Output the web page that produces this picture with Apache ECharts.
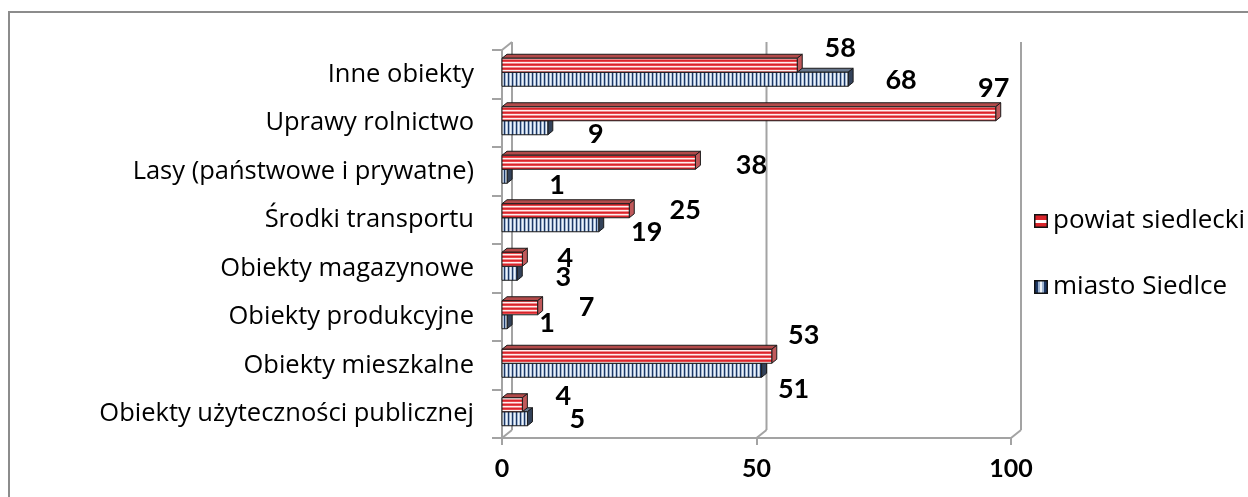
<!DOCTYPE html>
<html>
<head>
<meta charset="utf-8">
<script src="https://cdn.jsdelivr.net/npm/echarts@6/dist/echarts.min.js"></script>
<style>
html,body{margin:0;padding:0;background:#fff;}
#chart{width:1248px;height:497px;}
</style>
</head>
<body>
<div id="chart"></div>
<script>
// ---- data ----
const categories = [
  'Obiekty użyteczności publicznej',
  'Obiekty mieszkalne',
  'Obiekty produkcyjne',
  'Obiekty magazynowe',
  'Środki transportu',
  'Lasy (państwowe i prywatne)',
  'Uprawy rolnictwo',
  'Inne obiekty'
];
const seriesNames = ['powiat siedlecki', 'miasto Siedlce'];
const powiatValues = [4, 53, 7, 4, 25, 38, 97, 58];
const miastoValues = [5, 51, 1, 3, 19, 1, 9, 68];
const xTicks = [0, 50, 100];

// ---- label placement styles (pixel offsets from bar end, like the Excel original) ----
const powiatLabelOffsets = [[41,-8],[32,-21],[49,0],[43,-1],[56,0],[56,3],[-2,-25],[43,-17]];
const miastoLabelOffsets = [[50,1],[32,19],[40,2],[46,4],[48,8],[50,9],[48,7],[53,1]];

const FONT = '"Open Sans", Lato, "Noto Sans", sans-serif';
const BOLD_FONT = 'Lato, "Open Sans", sans-serif';
const DX = 5, DY = 4, BAR_H = 14;

function stripeCanvas(kind) {
  const c = document.createElement('canvas');
  const g = c.getContext('2d');
  if (kind === 'red') {
    c.width = 1; c.height = 4;
    ['#d9252b', '#e8474c', '#fdf0f0', '#f0888b'].forEach((col, i) => { g.fillStyle = col; g.fillRect(0, i, 1, 1); });
  } else {
    c.width = 4; c.height = 1;
    ['#1d3763', '#9fb5d2', '#eef3f9', '#b9cadf'].forEach((col, i) => { g.fillStyle = col; g.fillRect(i, 0, 1, 1); });
  }
  return c;
}
function legendIcon(kind) {
  const c = document.createElement('canvas');
  c.width = 14; c.height = 14;
  const g = c.getContext('2d');
  if (kind === 'red') {
    g.fillStyle = '#d9252b'; g.fillRect(0, 0, 14, 14);
    g.fillStyle = '#ffffff'; g.fillRect(1, 6, 12, 3);
  } else {
    g.fillStyle = '#eef3f9'; g.fillRect(0, 0, 14, 14);
    g.fillStyle = '#1d3763'; g.fillRect(1, 1, 3, 12); g.fillRect(10, 1, 3, 12);
    g.fillStyle = '#9fb5d2'; g.fillRect(4, 1, 2, 12); g.fillRect(8, 1, 2, 12);
  }
  g.strokeStyle = '#111'; g.lineWidth = 1.5; g.strokeRect(0.75, 0.75, 12.5, 12.5);
  return 'image://' + c.toDataURL();
}

const redPattern = { image: stripeCanvas('red'), repeat: 'repeat' };
const bluePattern = { image: stripeCanvas('blue'), repeat: 'repeat' };

function barRenderer(kind, offsets) {
  return function (params, api) {
    const v = api.value(0);
    const idx = api.value(1);
    const s = api.coord([0, idx]);
    const e = api.coord([v, idx]);
    const c = e[1];
    const y0 = kind === 'red' ? c - 16 : c - 2;
    const x0 = s[0], x1 = e[0];
    const front = kind === 'red' ? redPattern : bluePattern;
    const topCol = kind === 'red' ? '#b34a4a' : '#66758b';
    const sideCol = kind === 'red' ? '#c0585a' : '#33425a';
    const stroke = '#1a1a1a';
    const off = offsets[params.dataIndex];
    return {
      type: 'group',
      children: [
        { type: 'polygon', shape: { points: [[x0, y0], [x0 + DX, y0 - DY], [x1 + DX, y0 - DY], [x1, y0]] },
          style: { fill: topCol, stroke: stroke, lineWidth: 1 } },
        { type: 'polygon', shape: { points: [[x1, y0], [x1 + DX, y0 - DY], [x1 + DX, y0 + BAR_H - DY], [x1, y0 + BAR_H]] },
          style: { fill: sideCol, stroke: stroke, lineWidth: 1 } },
        { type: 'rect', shape: { x: x0, y: y0, width: Math.max(x1 - x0, 0.5), height: BAR_H },
          style: { fill: front, stroke: stroke, lineWidth: 1 } },
        { type: 'text', z2: 100,
          style: { text: String(v), x: x1 + off[0], y: y0 + BAR_H / 2 + off[1],
                   fill: '#000', fontSize: 27, fontWeight: 'bold', fontFamily: BOLD_FONT,
                   align: 'center', verticalAlign: 'middle' } }
      ]
    };
  };
}

function wallRenderer(params, api) {
  const v = api.value(0);
  const p = api.coord([v, 0]);
  const cs = params.coordSys;
  const top = cs.y, bottom = cs.y + cs.height;
  const x = p[0];
  const ls = { stroke: '#a3a3a3', lineWidth: 2 };
  const children = [
    { type: 'line', shape: { x1: x + 10, y1: top - 8, x2: x + 10, y2: bottom - 8 }, style: ls },
    { type: 'line', shape: { x1: x + 10, y1: bottom - 8, x2: x, y2: bottom }, style: ls }
  ];
  if (v === 0) {
    children.push({ type: 'line', shape: { x1: x, y1: top, x2: x + 10, y2: top - 8 }, style: ls });
    children.push({ type: 'line', shape: { x1: x - 10, y1: bottom, x2: x, y2: bottom }, style: ls });
  }
  return { type: 'group', children: children };
}

const chart = echarts.init(document.getElementById('chart'), null, { renderer: 'canvas' });
chart.setOption({
  animation: false,
  backgroundColor: '#ffffff',
  graphic: [{
    type: 'rect', z: -10, silent: true,
    shape: { x: 9, y: 12, width: 1400, height: 700 },
    style: { fill: 'none', stroke: '#8c8c8c', lineWidth: 2 }
  }],
  grid: { left: 502, top: 50, width: 509, height: 388 },
  legend: {
    orient: 'vertical', left: 1029, top: 203, itemGap: 40,
    itemWidth: 14, itemHeight: 14,
    textStyle: { fontSize: 26, color: '#000', fontFamily: FONT },
    data: [
      { name: seriesNames[0], icon: legendIcon('red') },
      { name: seriesNames[1], icon: legendIcon('blue') }
    ]
  },
  xAxis: {
    type: 'value', min: 0, max: 100, interval: 50,
    axisLine: { show: true, lineStyle: { color: '#a3a3a3', width: 2 } },
    axisTick: { show: true, length: 7, lineStyle: { color: '#a3a3a3', width: 2 } },
    axisLabel: { fontSize: 25, fontWeight: 'bold', color: '#000', fontFamily: BOLD_FONT, margin: 18 },
    splitLine: { show: false }
  },
  yAxis: {
    type: 'category', data: categories,
    axisLine: { show: true, lineStyle: { color: '#a3a3a3', width: 2 } },
    axisTick: { show: true, length: 10, lineStyle: { color: '#a3a3a3', width: 2 } },
    axisLabel: { fontSize: 25.5, color: '#000', fontFamily: FONT, margin: 28 }
  },
  series: [
    { type: 'custom', name: 'walls', silent: true, z: 1,
      data: xTicks.map(v => [v, categories[0]]),
      encode: { x: 0, y: 1 }, renderItem: wallRenderer },
    { type: 'custom', name: seriesNames[1], z: 2,
      itemStyle: { color: '#1d3763' },
      data: miastoValues.map((v, i) => [v, categories[i]]),
      encode: { x: 0, y: 1 }, renderItem: barRenderer('blue', miastoLabelOffsets) },
    { type: 'custom', name: seriesNames[0], z: 3,
      itemStyle: { color: '#d9252b' },
      data: powiatValues.map((v, i) => [v, categories[i]]),
      encode: { x: 0, y: 1 }, renderItem: barRenderer('red', powiatLabelOffsets) }
  ]
});
</script>
</body>
</html>
